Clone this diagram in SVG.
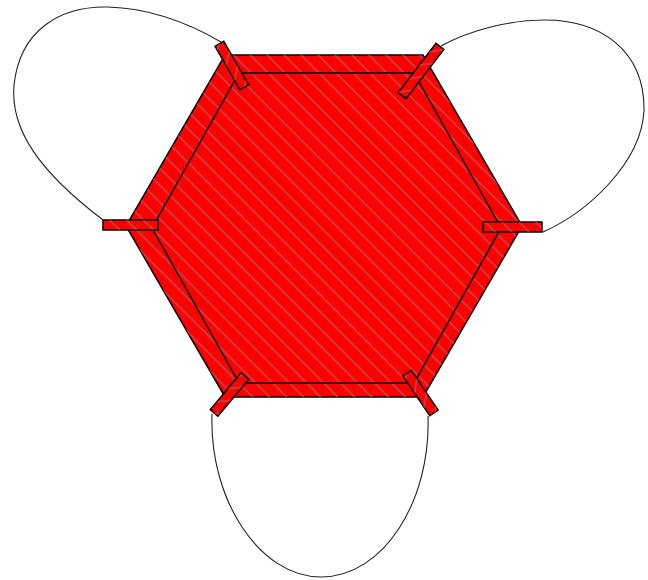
<svg xmlns="http://www.w3.org/2000/svg" width="648" height="580" viewBox="0 0 648 580">
  <style>
    .hex { fill: #ff0000; stroke: #000000; stroke-width: 1.5; stroke-linejoin: miter; }
    .hatch { fill: url(#hatch); stroke: none; }
    .inner { fill: none; stroke: #000000; stroke-width: 1.5; }
    .tab { fill: #ff0000; stroke: #000000; stroke-width: 1.5; }
    .loop { fill: none; stroke: #222222; stroke-width: 1.1; }
  </style>
  <defs>
    <pattern id="hatch" patternUnits="userSpaceOnUse" width="12" height="12" patternTransform="rotate(45)">
      <line x1="0" y1="6" x2="12" y2="6" stroke="#b85a5a" stroke-width="1.2"/>
    </pattern>
  </defs>
  <rect width="648" height="580" fill="#ffffff"/>

  <g id="connectors">
    <path class="loop" d="M 221 42 C 180 18 140 8 108 7 C 60 6 20 30 14 85 C 10 130 40 172 103 220"/>
    <path class="loop" d="M 441 46 C 470 30 510 20 545 20 C 600 20 645 50 644 111 C 641 163 588 212 543 232"/>
    <path class="loop" d="M 212 414 C 209 500 260 577 321 577 C 384 577 431 500 428 416"/>
  </g>

  <g id="hexagon">
    <polygon class="hex" points="225,55 423,55 522,226 423,397 225,397 126,226"/>
    <polygon class="hatch" points="225,55 423,55 522,226 423,397 225,397 126,226"/>
    <polygon class="inner" points="239,73 414,73 501,228 414,383 239,383 152,228"/>
  </g>

  <g id="port-top-left">
    <rect class="tab" x="-25" y="-5" width="50" height="10" transform="translate(231.8,65.5) rotate(60.3)"/>
    <rect class="hatch" x="-25" y="-5" width="50" height="10" transform="translate(231.8,65.5) rotate(60.3)"/>
  </g>
  <g id="port-top-right">
    <rect class="tab" x="-31" y="-5" width="62" height="10" transform="translate(421,71) rotate(-52.5)"/>
    <rect class="hatch" x="-31" y="-5" width="62" height="10" transform="translate(421,71) rotate(-52.5)"/>
  </g>
  <g id="port-left">
    <rect class="tab" x="103" y="220" width="55" height="10"/>
    <rect class="hatch" x="103" y="220" width="55" height="10"/>
  </g>
  <g id="port-right">
    <rect class="tab" x="483" y="222" width="59" height="10"/>
    <rect class="hatch" x="483" y="222" width="59" height="10"/>
  </g>
  <g id="port-bottom-left">
    <rect class="tab" x="-24" y="-5" width="48" height="10" transform="translate(229.5,394.5) rotate(-50)"/>
    <rect class="hatch" x="-24" y="-5" width="48" height="10" transform="translate(229.5,394.5) rotate(-50)"/>
  </g>
  <g id="port-bottom-right">
    <rect class="tab" x="-24" y="-5" width="48" height="10" transform="translate(420.5,393) rotate(56)"/>
    <rect class="hatch" x="-24" y="-5" width="48" height="10" transform="translate(420.5,393) rotate(56)"/>
  </g>
</svg>
